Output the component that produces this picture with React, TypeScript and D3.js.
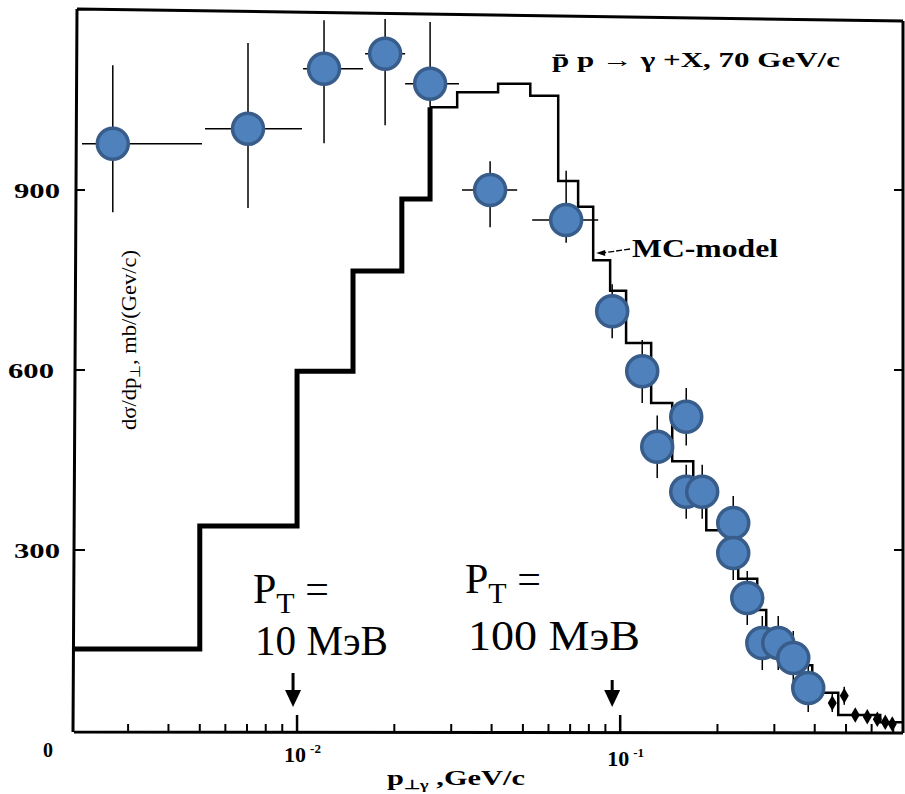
import React from "react";
import * as d3 from "d3";

const W = 905;
const H = 794;

// Axis extents: p_T in GeV/c (log), cross section in mb/(GeV/c)
const X_MIN = 0.002055;
const X_MAX = 0.745;
const Y_MAX = 1200;
const yTicks = [300, 600, 900];
const minorTicks = [0.003, 0.004, 0.005, 0.006, 0.007, 0.008, 0.009, 0.02, 0.03, 0.04, 0.05, 0.06, 0.07, 0.08, 0.09, 0.2, 0.3, 0.4, 0.5, 0.6, 0.7];
const majorTicks = [0.01, 0.1];
const majorLabels = ["-2", "-1"];

// MC-model histogram: bin edges and bin contents
const mcEdges = [0.002055, 0.005, 0.01, 0.0149, 0.0211, 0.0258, 0.0313, 0.0419, 0.0527, 0.0643, 0.0741, 0.0825, 0.0931, 0.1043, 0.1247, 0.1449, 0.1683, 0.1847, 0.2319, 0.2655, 0.2831, 0.336, 0.393, 0.473, 0.638, 0.745];
const mcValues = [135, 340, 598, 765, 885, 1038, 1063, 1077, 1057, 915, 872, 783, 732, 645, 545, 448, 383, 333, 252, 200, 150, 108, 62, 25, 13];
const thickBins = 5;

// Measured points
const dataPt = [0.00269, 0.00705, 0.01212, 0.01873, 0.02581, 0.03958, 0.06804, 0.09446, 0.117, 0.1601, 0.1302, 0.1601, 0.1794, 0.2238, 0.2238, 0.2473, 0.2753, 0.3084, 0.3433, 0.3819];
const dataVal = [977, 1002, 1102, 1127, 1077, 900, 850, 698, 598, 522, 472, 397, 397, 345, 295, 220, 145, 145, 120, 70];
const errLo = [863, 870, 978, 1008, 1038, 838, 812, 653, 545, 474, 420, 352, 352, 300, 250, 175, 100, 100, 75, 30];
const errHi = [1108, 1145, 1183, 1185, 1180, 948, 932, 743, 650, 570, 524, 442, 442, 390, 340, 265, 190, 190, 165, 110];
const binLo = [0.00216, 0.00519, 0.01044, 0.01624, 0.0216, 0.0324, 0.0534];
const binHi = [0.00508, 0.01036, 0.016, 0.0216, 0.0317, 0.048, 0.0855];

// Small black markers at high p_T
const tailPt = [0.4533, 0.4937, 0.534, 0.5817, 0.6248, 0.6613, 0.6951];
const tailVal = [45, 57, 25, 22, 18, 13, 10];

const SERIF = "Liberation Serif";
const FONT = { fontFamily: SERIF };

export default function App() {
  const x = d3.scaleLog().domain([X_MIN, X_MAX]).range([75, 902]);
  const y = d3.scaleLinear().domain([0, Y_MAX]).range([730, 10]);

  const line = d3
    .line<[number, number]>()
    .x((d) => x(d[0]))
    .y((d) => y(d[1]))
    .curve(d3.curveStepAfter);

  const thickPts: [number, number][] = [];
  for (let i = 0; i <= thickBins; i++) thickPts.push([mcEdges[i], mcValues[i]]);
  const thinPts: [number, number][] = [];
  for (let i = thickBins; i < mcValues.length; i++) thinPts.push([mcEdges[i], mcValues[i]]);
  thinPts.push([mcEdges[mcEdges.length - 1], mcValues[mcValues.length - 1]]);

  const diamond = d3.symbol().type(d3.symbolDiamond).size(70)() as string;

  const x0 = x(X_MIN);
  const x1 = x(X_MAX) + 1;
  const yb = y(0) + 2;

  const arrowDown = (cx: number, top: number) => (
    <g key={cx}>
      <line x1={cx} x2={cx} y1={top} y2={693} stroke="#000" strokeWidth={3} />
      <path d={`M${cx - 8},${690} L${cx + 8},${690} L${cx},${707} Z`} fill="#000" />
    </g>
  );

  const mcArrowTip = x(0.0825) + 3;

  return (
    <svg
      width={W}
      height={H}
      style={{ position: "absolute", left: 0, top: 0, background: "#fff", fontFamily: SERIF }}
    >
      <rect width={W} height={H} fill="#fff" />

      {/* frame */}
      <path
        d={`M${x0 + 2},9 L${x1},21 M${x1},21 L${x1},${yb + 1} M${x0 - 1},${yb} L${x1},${yb + 1} M${x0 + 2},9 L${x0 - 2},${yb}`}
        fill="none"
        stroke="#000"
        strokeWidth={3}
      />

      {/* y ticks */}
      {yTicks.map((t) => (
        <g key={t}>
          <line x1={x0} x2={x0 + 10} y1={y(t)} y2={y(t)} stroke="#000" strokeWidth={2} />
          <line x1={x1 - 9} x2={x1} y1={y(t)} y2={y(t)} stroke="#000" strokeWidth={2} />
          <text
            x={14 + (t === 600 ? -6 : 0)}
            y={y(t) + 8}
            fontSize={22}
            fontWeight="bold"
            textLength={46}
            lengthAdjust="spacingAndGlyphs"
            style={FONT}
          >
            {t}
          </text>
        </g>
      ))}

      {/* x ticks */}
      {minorTicks.map((t) => (
        <line key={t} x1={x(t)} x2={x(t)} y1={yb} y2={yb - 8} stroke="#000" strokeWidth={2} />
      ))}
      {majorTicks.map((t, i) => (
        <g key={t}>
          <line x1={x(t)} x2={x(t)} y1={yb} y2={yb - 17} stroke="#000" strokeWidth={2.5} />
          <text x={x(t) - 13} y={762 + i * 4} fontSize={22} fontWeight="bold" style={FONT}>
            10
            <tspan fontSize={13} dx={4} dy={-9}>
              {majorLabels[i]}
            </tspan>
          </text>
        </g>
      ))}
      <text x={43} y={757} fontSize={20} fontWeight="bold" style={FONT}>
        0
      </text>

      {/* axis titles */}
      <text x={387} y={785} fontSize={21} fontWeight="bold" textLength={138} lengthAdjust="spacingAndGlyphs" style={FONT}>
        p
        <tspan fontSize={13} dy={4}>⊥γ</tspan>
        <tspan dy={-4}> ,GeV/c</tspan>
      </text>
      <text
        transform="translate(136,340) rotate(-90)"
        textAnchor="middle"
        fontSize={21}
        textLength={180}
        lengthAdjust="spacingAndGlyphs"
        style={FONT}
      >
        dσ/dp
        <tspan fontSize={14} dy={4}>⊥</tspan>
        <tspan dy={-4}>, mb/(Gev/c)</tspan>
      </text>

      {/* reaction label */}
      <text x={552} y={67} fontSize={22} fontWeight="bold" textLength={288} lengthAdjust="spacingAndGlyphs" style={FONT}>
        p̄ p → γ +X, 70 GeV/c
      </text>

      {/* MC-model histogram */}
      <path d={line(thickPts) as string} fill="none" stroke="#000" strokeWidth={5} strokeLinejoin="miter" />
      <path d={line(thinPts) as string} fill="none" stroke="#000" strokeWidth={2.5} strokeLinejoin="miter" />

      {/* MC-model label */}
      <line x1={630} x2={mcArrowTip + 6} y1={249} y2={253} stroke="#000" strokeWidth={1.3} strokeDasharray="6 2" />
      <path d={`M${mcArrowTip},253 L${mcArrowTip + 9},250 L${mcArrowTip + 9},256 Z`} fill="#000" />
      <text x={632} y={257} fontSize={25} fontWeight="bold" textLength={146} lengthAdjust="spacingAndGlyphs" style={FONT}>
        MC-model
      </text>

      {/* tail points */}
      {tailPt.map((p, i) => (
        <g key={p}>
          {i < 2 && (
            <line x1={x(p)} x2={x(p)} y1={y(tailVal[i]) - 9} y2={y(tailVal[i]) + 9} stroke="#000" strokeWidth={1.5} />
          )}
          <path d={diamond} transform={`translate(${x(p)},${y(tailVal[i])})`} fill="#000" />
        </g>
      ))}

      {/* error bars */}
      {dataPt.map((p, i) => (
        <g key={`e${i}`} stroke="#000" strokeWidth={1.5}>
          <line x1={x(p)} x2={x(p)} y1={y(errLo[i])} y2={y(errHi[i])} />
          {i < binLo.length && (
            <line x1={x(binLo[i])} x2={x(binHi[i])} y1={y(dataVal[i])} y2={y(dataVal[i])} />
          )}
        </g>
      ))}

      {/* data points */}
      {dataPt.map((p, i) => (
        <circle
          key={`c${i}`}
          cx={x(p)}
          cy={y(dataVal[i])}
          r={15.5}
          fill="#4F81BD"
          stroke="#385D8A"
          strokeWidth={3.5}
        />
      ))}

      {/* P_T annotations */}
      <text x={253} y={603} fontSize={42} style={FONT}>
        P<tspan fontSize={30} dy={10}>T</tspan>
        <tspan dy={-10}> =</tspan>
      </text>
      <text x={255} y={655} fontSize={42} textLength={133} lengthAdjust="spacingAndGlyphs" style={FONT}>
        10 МэВ
      </text>
      <text x={465} y={593} fontSize={42} style={FONT}>
        P<tspan fontSize={30} dy={10}>T</tspan>
        <tspan dy={-10}> =</tspan>
      </text>
      <text x={468} y={650} fontSize={42} textLength={172} lengthAdjust="spacingAndGlyphs" style={FONT}>
        100 МэВ
      </text>
      {arrowDown(x(0.01) - 4, 673)}
      {arrowDown(x(0.1) - 8, 680)}
    </svg>
  );
}
